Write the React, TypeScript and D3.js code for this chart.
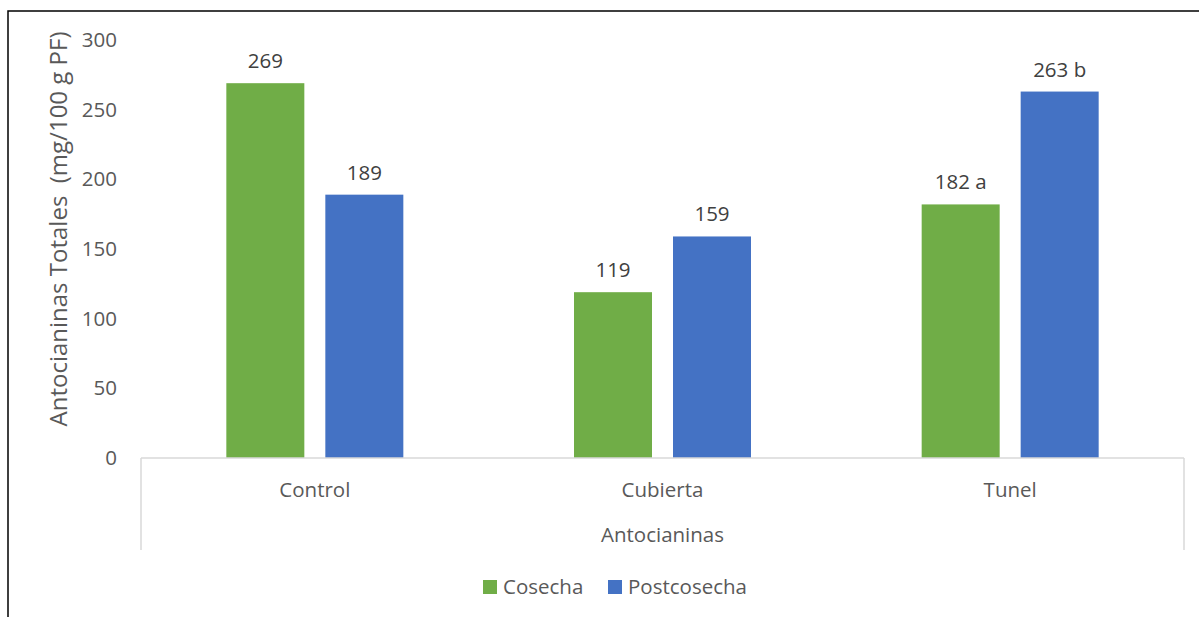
import React from "react";
import * as d3 from "d3";

const categories = ["Control", "Cubierta", "Tunel"];
const seriesNames = ["Cosecha", "Postcosecha"];
const cosecha = [269, 119, 182];
const postcosecha = [189, 159, 263];
const cosechaLabels = ["269", "119", "182 a"];
const postcosechaLabels = ["189", "159", "263 b"];
const yTicks = [0, 50, 100, 150, 200, 250, 300];
const colors = ["#70AD47", "#4472C4"];

const W = 1199;
const H = 617;
const FONT = "'Open Sans', sans-serif";
const TXT = "#595959";
const FS = 20.5;

export default function App() {
  const left = 141;
  const right = 1184;
  const top = 40;
  const bottom = 458;
  const x0 = d3.scaleBand<string>().domain(categories).range([left, right]).paddingInner(0).paddingOuter(0);
  const y = d3.scaleLinear().domain([0, 300]).range([bottom, top]);
  const barW = 78;
  const gap = 21;
  const series = [cosecha, postcosecha];
  const labels = [cosechaLabels, postcosechaLabels];

  return (
    <svg width={W} height={H} style={{ position: "absolute", left: 0, top: 0, background: "#fff" }}>
      <rect x={0} y={0} width={W} height={H} fill="#fff" />
      <rect x={8} y={11} width={1300} height={700} fill="none" stroke="#000" strokeWidth={1.5} />
      {categories.map((c, i) => {
        const cx = (x0(c) as number) + x0.bandwidth() / 2;
        return series.map((s, k) => {
          const bx = k === 0 ? cx - gap / 2 - barW : cx + gap / 2;
          return (
            <g key={c + k}>
              <rect x={bx} y={y(s[i])} width={barW} height={bottom - y(s[i])} fill={colors[k]} />
              <text x={bx + barW / 2} y={y(s[i]) - 15} textAnchor="middle" fontFamily={FONT} fontSize={FS} fill="#404040">
                {labels[k][i]}
              </text>
            </g>
          );
        });
      })}
      <line x1={left} x2={right} y1={bottom} y2={bottom} stroke="#d9d9d9" strokeWidth={1.5} />
      <line x1={left} x2={left} y1={bottom} y2={550} stroke="#d9d9d9" strokeWidth={1.5} />
      <line x1={right} x2={right} y1={bottom} y2={550} stroke="#d9d9d9" strokeWidth={1.5} />
      {yTicks.map((t) => (
        <text key={t} x={117} y={y(t) + 7} textAnchor="end" fontFamily={FONT} fontSize={FS} fill={TXT}>
          {t}
        </text>
      ))}
      {categories.map((c) => (
        <text key={c} x={(x0(c) as number) + x0.bandwidth() / 2} y={497} textAnchor="middle" fontFamily={FONT} fontSize={FS} fill={TXT}>
          {c}
        </text>
      ))}
      <text x={(left + right) / 2} y={542} textAnchor="middle" fontFamily={FONT} fontSize={FS} fill={TXT}>
        Antocianinas
      </text>
      <text transform={`translate(67, 229) rotate(-90)`} textAnchor="middle" fontFamily={FONT} fontSize={24} fill={TXT} style={{ whiteSpace: "pre" }}>
        {"Antocianinas Totales  (mg/100 g PF)"}
      </text>
      {seriesNames.map((n, k) => {
        const lx = k === 0 ? 483 : 608;
        return (
          <g key={n}>
            <rect x={lx} y={580} width={14} height={14} fill={colors[k]} />
            <text x={lx + 20} y={594} fontFamily={FONT} fontSize={FS} fill={TXT}>
              {n}
            </text>
          </g>
        );
      })}
    </svg>
  );
}
